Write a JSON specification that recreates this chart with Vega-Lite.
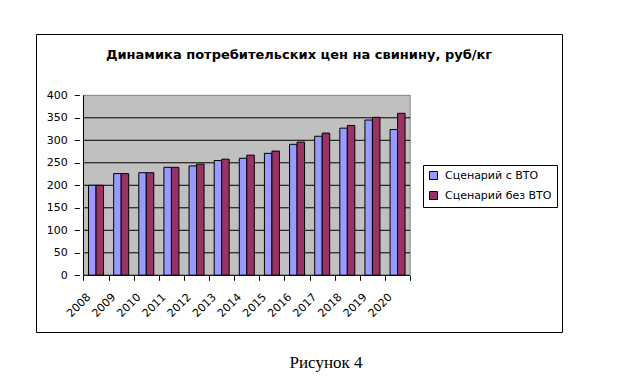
{
  "$schema": "https://vega.github.io/schema/vega-lite/v6.json",
  "width": 526,
  "height": 298,
  "autosize": "none",
  "padding": {"left": 36, "top": 34, "right": 62, "bottom": 52},
  "background": "white",
  "config": {
    "view": {"stroke": "black", "strokeWidth": 1, "fill": "white"},
    "font": "DejaVu Sans"
  },
  "title": {
    "text": "Динамика потребительских цен на свинину, руб/кг",
    "font": "DejaVu Sans",
    "fontSize": 13,
    "fontWeight": "bold",
    "color": "black",
    "anchor": "middle",
    "frame": "group",
    "baseline": "alphabetic",
    "offset": -38
  },
  "resolve": {"axis": {"x": "independent", "y": "independent"}},
  "datasets": {
    "prices": [
      {"year": 2008, "scenario": "Сценарий с ВТО", "value": 200},
      {"year": 2009, "scenario": "Сценарий с ВТО", "value": 226},
      {"year": 2010, "scenario": "Сценарий с ВТО", "value": 228},
      {"year": 2011, "scenario": "Сценарий с ВТО", "value": 240},
      {"year": 2012, "scenario": "Сценарий с ВТО", "value": 243},
      {"year": 2013, "scenario": "Сценарий с ВТО", "value": 255},
      {"year": 2014, "scenario": "Сценарий с ВТО", "value": 260},
      {"year": 2015, "scenario": "Сценарий с ВТО", "value": 271},
      {"year": 2016, "scenario": "Сценарий с ВТО", "value": 291},
      {"year": 2017, "scenario": "Сценарий с ВТО", "value": 309},
      {"year": 2018, "scenario": "Сценарий с ВТО", "value": 327},
      {"year": 2019, "scenario": "Сценарий с ВТО", "value": 345},
      {"year": 2020, "scenario": "Сценарий с ВТО", "value": 324},
      {"year": 2008, "scenario": "Сценарий без ВТО", "value": 200},
      {"year": 2009, "scenario": "Сценарий без ВТО", "value": 226},
      {"year": 2010, "scenario": "Сценарий без ВТО", "value": 228},
      {"year": 2011, "scenario": "Сценарий без ВТО", "value": 240},
      {"year": 2012, "scenario": "Сценарий без ВТО", "value": 247},
      {"year": 2013, "scenario": "Сценарий без ВТО", "value": 258},
      {"year": 2014, "scenario": "Сценарий без ВТО", "value": 267},
      {"year": 2015, "scenario": "Сценарий без ВТО", "value": 276},
      {"year": 2016, "scenario": "Сценарий без ВТО", "value": 296},
      {"year": 2017, "scenario": "Сценарий без ВТО", "value": 316},
      {"year": 2018, "scenario": "Сценарий без ВТО", "value": 333},
      {"year": 2019, "scenario": "Сценарий без ВТО", "value": 351},
      {"year": 2020, "scenario": "Сценарий без ВТО", "value": 360}
    ],
    "grid": [
      {"g": 50}, {"g": 100}, {"g": 150}, {"g": 200}, {"g": 250}, {"g": 300}, {"g": 350}
    ],
    "one": [{}]
  },
  "layer": [
    {
      "data": {"name": "one"},
      "mark": {"type": "rect", "fill": "#C0C0C0", "stroke": "#808080", "strokeWidth": 1},
      "encoding": {
        "x": {
          "datum": 2007.5,
          "type": "quantitative",
          "scale": {"type": "linear", "domain": [2005.8096, 2026.3446], "nice": false, "zero": false},
          "axis": {
            "orient": "bottom",
            "offset": -56.7,
            "values": [2007.5, 2008.5, 2009.5, 2010.5, 2011.5, 2012.5, 2013.5, 2014.5, 2015.5, 2016.5, 2017.5, 2018.5, 2019.5, 2020.5],
            "labelExpr": "datum.value > 2020 ? '' : format(datum.value + 0.5, 'd')",
            "labelOffset": 5,
            "labelAngle": -45,
            "labelAlign": "right",
            "labelBaseline": "middle",
            "labelPadding": 15,
            "labelOverlap": false,
            "labelFlush": false,
            "labelFont": "DejaVu Sans",
            "labelFontSize": 11,
            "labelColor": "black",
            "tickSize": 5,
            "tickColor": "black",
            "domain": false,
            "grid": false,
            "title": "Рисунок 4",
            "titleFont": "Liberation Serif",
            "titleFontSize": 17,
            "titleFontWeight": "normal",
            "titleColor": "black",
            "titleX": 289.5,
            "titleY": 91.7,
            "titleAlign": "center",
            "titleBaseline": "alphabetic"
          }
        },
        "x2": {"datum": 2020.5},
        "y": {
          "datum": 0,
          "type": "quantitative",
          "scale": {"domain": [-126.0, 536.2], "nice": false, "zero": false},
          "axis": {
            "orient": "left",
            "offset": -43.3,
            "values": [0, 50, 100, 150, 200, 250, 300, 350, 400],
            "format": "d",
            "tickSize": 5,
            "tickColor": "black",
            "labelPadding": 7,
            "labelFont": "DejaVu Sans",
            "labelFontSize": 11,
            "labelColor": "black",
            "domain": false,
            "grid": false,
            "title": null
          }
        },
        "y2": {"datum": 400}
      }
    },
    {
      "data": {"name": "grid"},
      "mark": {"type": "rule", "color": "black", "strokeWidth": 1},
      "encoding": {
        "y": {"field": "g", "type": "quantitative", "axis": null},
        "x": {"datum": 2007.5, "type": "quantitative", "axis": null},
        "x2": {"datum": 2020.5}
      }
    },
    {
      "data": {"name": "prices"},
      "transform": [{"filter": "datum.scenario === 'Сценарий с ВТО'"}],
      "mark": {"type": "bar", "size": 7.5, "xOffset": -3.75, "stroke": "black", "strokeWidth": 1},
      "encoding": {
        "x": {"field": "year", "type": "quantitative", "axis": null},
        "y": {"field": "value", "type": "quantitative", "axis": null},
        "y2": {"datum": 0},
        "color": {
          "field": "scenario",
          "type": "nominal",
          "scale": {"domain": ["Сценарий с ВТО", "Сценарий без ВТО"], "range": ["#9999FF", "#993366"]},
          "legend": {
            "orient": "none",
            "legendX": 387,
            "legendY": 131,
            "title": null,
            "symbolType": "square",
            "symbolSize": 64,
            "symbolStrokeColor": "black",
            "symbolStrokeWidth": 1,
            "labelFont": "DejaVu Sans",
            "labelFontSize": 11,
            "labelColor": "black",
            "labelOffset": 6,
            "strokeColor": "black",
            "fillColor": "white",
            "padding": 5,
            "rowPadding": 7
          }
        }
      }
    },
    {
      "data": {"name": "prices"},
      "transform": [{"filter": "datum.scenario === 'Сценарий без ВТО'"}],
      "mark": {"type": "bar", "size": 7.5, "xOffset": 3.75, "stroke": "black", "strokeWidth": 1},
      "encoding": {
        "x": {"field": "year", "type": "quantitative", "axis": null},
        "y": {"field": "value", "type": "quantitative", "axis": null},
        "y2": {"datum": 0},
        "color": {"field": "scenario", "type": "nominal"}
      }
    },
    {
      "data": {"name": "one"},
      "mark": {"type": "rule", "color": "black", "strokeWidth": 1},
      "encoding": {
        "x": {"datum": 2007.5, "type": "quantitative", "axis": null},
        "y": {"datum": 0, "type": "quantitative", "axis": null},
        "y2": {"datum": 400}
      }
    },
    {
      "data": {"name": "one"},
      "mark": {"type": "rule", "color": "black", "strokeWidth": 1},
      "encoding": {
        "x": {"datum": 2007.5, "type": "quantitative", "axis": null},
        "x2": {"datum": 2020.5},
        "y": {"datum": 0, "type": "quantitative", "axis": null}
      }
    }
  ]
}
